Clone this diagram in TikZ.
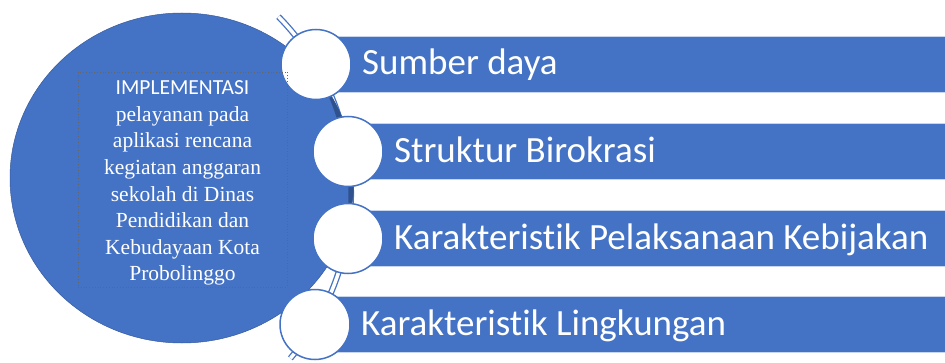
\documentclass[tikz,border=0pt]{standalone}
\usepackage{fontspec}
\setmainfont{Liberation Serif}
\newfontfamily\calibri[Ligatures={NoCommon}]{Carlito}
\definecolor{officeblue}{HTML}{4472C4}
\definecolor{spinedark}{HTML}{2F528F}

\begin{document}
\begin{tikzpicture}[
        x=1pt, y=1pt,
        band/.style={fill=officeblue, draw=white!70!officeblue, line width=0.6pt, anchor=west, minimum height=56pt, minimum width=632pt, inner sep=0pt},
        ring/.style={circle, fill=white, draw=officeblue, line width=1.5pt, minimum size=70pt, inner sep=0pt},
        itemtext/.style={text=white, font=\calibri\fontsize{37}{44}\selectfont, anchor=base west, inner sep=0pt},
        spine/.style={draw=officeblue, line width=1.3pt, double=white, double distance=3.5pt},
    ]
    \useasboundingbox (0,0) rectangle (945,362);
    \coordinate (hub) at (182,184);
    \coordinate (axis) at (98,168);
    \coordinate (top) at ([shift={(44.5:253)}]axis);

    % bands behind the circles
    \node[band] (b1) at (316,297.5) {};
    \node[band] (b2) at (348,210.5) {};
    \node[band] (b3) at (348,123.5) {};
    \node[band] (b4) at (315,37.5) {};

    % curved spine
    \draw[spine] (top) arc[start angle=44.5, end angle=-40.5, radius=253];

    % big circle
    \fill[officeblue, draw=officeblue!80!black, line width=0.5pt] (hub) ellipse [x radius=172, y radius=165];
    \begin{scope}
        \clip (hub) ellipse [x radius=172, y radius=165];
        \draw[spinedark, line width=5pt] (top) arc[start angle=44.5, end angle=-40.5, radius=253];
    \end{scope}

    % small circles
    \node[ring] (c1) at (b1.west) {};
    \node[ring] (c2) at (b2.west) {};
    \node[ring] (c3) at (b3.west) {};
    \node[ring] (c4) at (b4.west) {};

    \node[itemtext] (t1) at ([xshift=46pt, yshift=-10.5pt]c1.center) {Sumber daya};
    \node[itemtext] (t2) at ([xshift=46pt, yshift=-10.5pt]c2.center) {Struktur Birokrasi};
    \node[itemtext] (t3) at ([xshift=46pt, yshift=-10.5pt]c3.center) {Karakteristik Pelaksanaan Kebijakan};
    \node[itemtext] (t4) at ([xshift=46pt, yshift=-10.5pt]c4.center) {Karakteristik Lingkungan};

    % text box in the big circle
    \node[draw=gray!80!black, dotted, line width=0.8pt, minimum width=209pt, minimum height=215pt] (box) at (182.5,182.5) {};
    \node[text=white, align=center, anchor=north, inner sep=0pt,
        font=\fontsize{21.5}{26.6}\selectfont] (impl) at ([yshift=-9pt]box.north)
        {{\calibri IMPLEMENTASI}\\pelayanan pada\\aplikasi rencana\\kegiatan anggaran\\sekolah di Dinas\\Pendidikan dan\\Kebudayaan Kota\\Probolinggo};
\end{tikzpicture}
\end{document}
